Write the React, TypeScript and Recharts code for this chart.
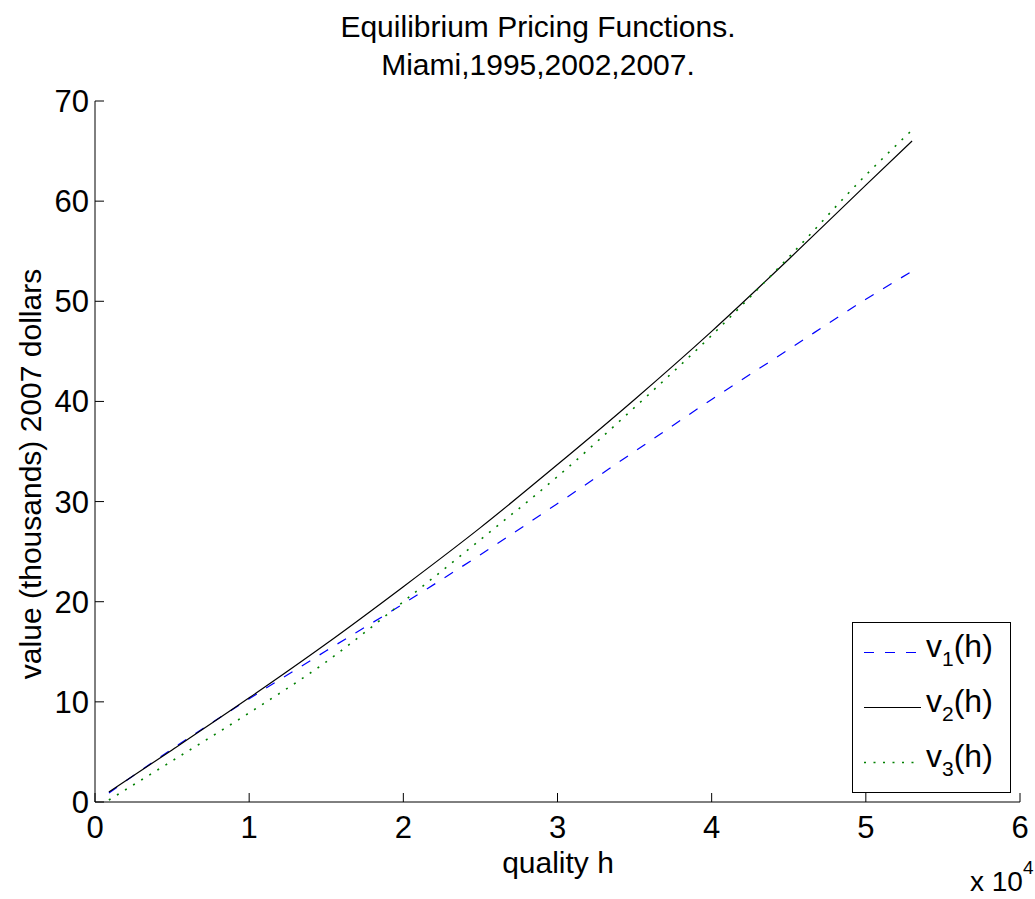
import { LineChart, Line, XAxis, YAxis, Legend } from 'recharts';

const FONT = '"Liberation Sans", Arial, Helvetica, sans-serif';

// quality h and the three pricing functions (thousands, 2007 dollars)
const hValues = [900, 5000, 10000, 15000, 20000, 25000, 30000, 35000, 40000, 45000, 50000, 53000];
const v1Values = [0.9, 5.3, 10.3, 15.1, 19.8, 24.7, 29.8, 35.0, 40.2, 45.2, 50.2, 53.0];
const v2Values = [1.0, 5.2, 10.4, 15.8, 21.5, 27.4, 33.7, 40.2, 47.0, 54.2, 61.6, 66.0];
const v3Values = [0.2, 4.1, 8.9, 14.0, 20.0, 26.2, 32.5, 39.4, 46.6, 54.4, 62.6, 67.1];

const xTicks = [0, 10000, 20000, 30000, 40000, 50000, 60000];
const yTicks = [0, 10, 20, 30, 40, 50, 60, 70];

const series = [
  { key: 'v1', sub: '1', color: '#0000ff', dash: '10 11', width: 1.2 },
  { key: 'v2', sub: '2', color: '#000000', dash: undefined, width: 1.2 },
  { key: 'v3', sub: '3', color: '#008000', dash: '2 7.5', width: 1.6 },
];

const data = hValues.map((h, i) => ({
  h,
  v1: v1Values[i],
  v2: v2Values[i],
  v3: v3Values[i],
}));

const TICK = 9;

function BottomTick({ x, y, payload }: any) {
  return (
    <g>
      <line x1={x} y1={y} x2={x} y2={y - TICK} stroke="#000" />
      <text x={x} y={y + 36} textAnchor="middle" fontSize={31} fontFamily={FONT} fill="#000">
        {payload.value / 10000}
      </text>
    </g>
  );
}

function TopTick({ x, y }: any) {
  return <line x1={x} y1={y} x2={x} y2={y + TICK} stroke="#000" />;
}

function LeftTick({ x, y, payload }: any) {
  return (
    <g>
      <line x1={x} y1={y} x2={x + TICK} y2={y} stroke="#000" />
      <text x={x - 6} y={y + 11} textAnchor="end" fontSize={31} fontFamily={FONT} fill="#000">
        {payload.value}
      </text>
    </g>
  );
}

function RightTick({ x, y }: any) {
  return <line x1={x} y1={y} x2={x - TICK} y2={y} stroke="#000" />;
}

function LegendBox() {
  return (
    <svg width={160} height={172} style={{ display: 'block' }}>
      <rect x={0.5} y={0.5} width={158} height={170} fill="#fff" stroke="#000" />
      {series.map((s, i) => {
        const ly = 30.5 + i * 55;
        return (
          <g key={s.key}>
            <line x1={12} y1={ly} x2={69} y2={ly} stroke={s.color} strokeDasharray={s.dash} strokeWidth={s.width} />
            <text x={74} y={ly + 4} fontSize={32} fontFamily={FONT} fill="#000">
              <tspan>v</tspan>
              <tspan fontSize={21} dy={9}>{s.sub}</tspan>
              <tspan dy={-9}>(h)</tspan>
            </text>
          </g>
        );
      })}
    </svg>
  );
}

export default function App() {
  return (
    <div style={{ position: 'absolute', left: 0, top: 0, width: 1035, height: 899, background: '#fff' }}>
      <LineChart width={1035} height={899} data={data} margin={{ top: 101, right: 15, bottom: 0, left: 0 }}>
        <XAxis
          dataKey="h"
          type="number"
          domain={[0, 60000]}
          ticks={xTicks}
          interval={0}
          height={97}
          tickSize={0}
          tickMargin={0}
          tickLine={false}
          axisLine={{ stroke: '#000' }}
          tick={<BottomTick />}
        />
        <XAxis
          xAxisId="top"
          orientation="top"
          dataKey="h"
          type="number"
          domain={[0, 60000]}
          ticks={xTicks}
          interval={0}
          height={0}
          tickSize={0}
          tickMargin={0}
          tickLine={false}
          axisLine={{ stroke: '#000' }}
          tick={<TopTick />}
        />
        <YAxis
          type="number"
          domain={[0, 70]}
          ticks={yTicks}
          interval={0}
          width={95}
          tickSize={0}
          tickMargin={0}
          tickLine={false}
          axisLine={{ stroke: '#000' }}
          tick={<LeftTick />}
        />
        <YAxis
          yAxisId="right"
          orientation="right"
          type="number"
          domain={[0, 70]}
          ticks={yTicks}
          interval={0}
          width={0}
          tickSize={0}
          tickMargin={0}
          tickLine={false}
          axisLine={{ stroke: '#000' }}
          tick={<RightTick />}
        />
        <Legend
          layout="horizontal"
          verticalAlign="middle"
          align="center"
          content={() => <LegendBox />}
          wrapperStyle={{ position: 'absolute', left: 852, top: 622, width: 160, height: 172, margin: 0 }}
        />
        {series.map((s) => (
          <Line
            key={s.key}
            type="monotone"
            dataKey={s.key}
            stroke={s.color}
            strokeWidth={s.width}
            strokeDasharray={s.dash}
            dot={false}
            activeDot={false}
            isAnimationActive={false}
          />
        ))}
      </LineChart>
      <svg
        width={1035}
        height={899}
        style={{ position: 'absolute', left: 0, top: 0, pointerEvents: 'none' }}
        fontFamily={FONT}
      >
        <text x={538} y={37} textAnchor="middle" fontSize={30}>Equilibrium Pricing Functions.</text>
        <text x={538} y={75} textAnchor="middle" fontSize={30}>Miami,1995,2002,2007.</text>
        <text x={558} y={873} textAnchor="middle" fontSize={30}>quality h</text>
        <text transform="translate(41,474) rotate(-90)" textAnchor="middle" fontSize={30}>
          value (thousands) 2007 dollars
        </text>
        <text x={970} y={891} fontSize={28}>
          x 10<tspan fontSize={19} dy={-17}>4</tspan>
        </text>
      </svg>
    </div>
  );
}
